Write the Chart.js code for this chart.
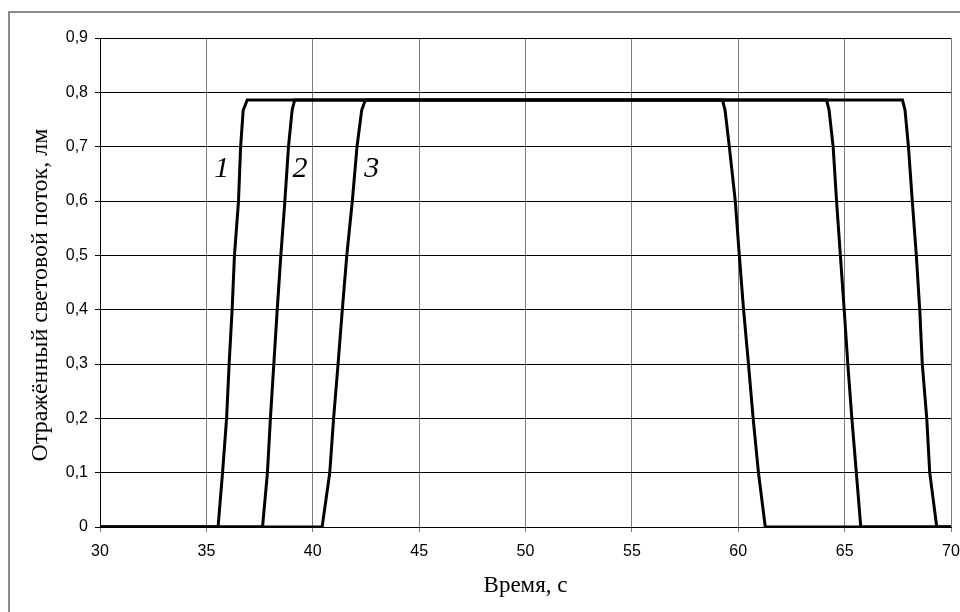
<!DOCTYPE html>
<html>
<head>
<meta charset="utf-8">
<script src="https://cdn.jsdelivr.net/npm/chart.js@4.4.1/dist/chart.umd.min.js"></script>
<style>
  html, body { margin: 0; padding: 0; background: #fff; }
  canvas { display: block; }
</style>
</head>
<body>
<canvas id="chart" width="960" height="612"></canvas>
<script>
// Flux levels (lm) at which the edges were read
const levels = [0, 0.1, 0.2, 0.3, 0.4, 0.5, 0.6, 0.7, 0.767, 0.786];

// Rising edges: time (s) at each level
const rise1 = [35.55, 35.76, 35.95, 36.07, 36.21, 36.32, 36.51, 36.61, 36.73, 36.92];
const rise2 = [37.64, 37.87, 38.01, 38.17, 38.33, 38.50, 38.69, 38.86, 39.03, 39.15];
const rise3 = [40.44, 40.80, 40.98, 41.19, 41.39, 41.60, 41.86, 42.08, 42.30, 42.47];

// Falling edges: time (s) at each level
const fall1 = [69.33, 69.00, 68.86, 68.65, 68.53, 68.37, 68.18, 68.00, 67.84, 67.72];
const fall2 = [65.76, 65.55, 65.34, 65.15, 64.98, 64.80, 64.62, 64.46, 64.27, 64.15];
const fall3 = [61.27, 60.95, 60.70, 60.48, 60.25, 60.05, 59.86, 59.58, 59.38, 59.26];

const timeStart = 30;
const timeEnd = 70;

// Curve numbers written next to the rising edges
const curveNames = ['1', '2', '3'];
const nameX = [35.72, 39.40, 42.77];
const nameY = [0.658, 0.658, 0.658];

const xTickLabels = ['30', '35', '40', '45', '50', '55', '60', '65', '70'];
const yTickLabels = ['0', '0,1', '0,2', '0,3', '0,4', '0,5', '0,6', '0,7', '0,8', '0,9'];

const xTitle = 'Время, с';
const yTitle = 'Отражённый световой поток, лм';

// Build one trace: zero, rise, plateau, fall, zero
const buildCurve = (rise, fall) => {
    const pts = [{ x: timeStart, y: 0 }];
    rise.forEach((t, i) => pts.push({ x: t, y: levels[i] }));
    for (let i = fall.length - 1; i >= 0; i--) {
        pts.push({ x: fall[i], y: levels[i] });
    }
    pts.push({ x: timeEnd, y: 0 });
    return pts;
};

const curves = [buildCurve(rise1, fall1), buildCurve(rise2, fall2), buildCurve(rise3, fall3)];

// White page with the grey frame around the chart
const framePlugin = {
    id: 'frame',
    beforeDraw: (chart) => {
        const ctx = chart.ctx;
        ctx.save();
        ctx.fillStyle = '#fff';
        ctx.fillRect(0, 0, chart.width, chart.height);
        ctx.strokeStyle = '#8a8a8a';
        ctx.lineWidth = 2;
        ctx.strokeRect(9, 12, chart.width + 20, chart.height + 20);
        ctx.restore();
    }
};

// Italic curve numbers
const namesPlugin = {
    id: 'curveNames',
    afterDatasetsDraw: (chart) => {
        const ctx = chart.ctx;
        const xs = chart.scales.x;
        const ys = chart.scales.y;
        ctx.save();
        ctx.fillStyle = '#000';
        ctx.font = 'italic 30px "Liberation Serif"';
        ctx.textAlign = 'center';
        ctx.textBaseline = 'middle';
        curveNames.forEach((name, i) => {
            ctx.fillText(name, xs.getPixelForValue(nameX[i]), ys.getPixelForValue(nameY[i]));
        });
        ctx.restore();
    }
};

// Vertical axis title (sits a little below the plot centre)
const yTitlePlugin = {
    id: 'yTitle',
    afterDraw: (chart) => {
        const ctx = chart.ctx;
        ctx.save();
        ctx.translate(41, 295);
        ctx.rotate(-Math.PI / 2);
        ctx.fillStyle = '#000';
        ctx.font = '24px "Liberation Serif"';
        ctx.textAlign = 'center';
        ctx.textBaseline = 'middle';
        ctx.fillText(yTitle, 0, 0);
        ctx.restore();
    }
};

const tickFont = { family: '"Liberation Sans", Arial, sans-serif', size: 16 };

new Chart(document.getElementById('chart').getContext('2d'), {
    type: 'line',
    data: {
        datasets: curves.map((pts, i) => ({
            label: curveNames[i],
            data: pts,
            borderColor: '#000',
            borderWidth: 3,
            pointRadius: 0,
            tension: 0,
            fill: false
        }))
    },
    options: {
        responsive: false,
        animation: false,
        layout: {
            padding: { top: 38, right: 0, left: 0, bottom: 0 }
        },
        plugins: {
            legend: { display: false },
            tooltip: { enabled: false }
        },
        scales: {
            x: {
                type: 'linear',
                min: timeStart,
                max: timeEnd,
                ticks: {
                    stepSize: 5,
                    color: '#000',
                    font: tickFont,
                    padding: 10,
                    maxRotation: 0,
                    callback: (v, i) => xTickLabels[i]
                },
                grid: {
                    color: '#7a7a7a',
                    lineWidth: 1,
                    tickLength: 5
                },
                border: { color: '#000', width: 1 },
                title: {
                    display: true,
                    text: xTitle,
                    color: '#000',
                    font: { family: '"Liberation Serif", "Times New Roman", serif', size: 23 },
                    padding: { top: 0, bottom: 12 }
                },
                afterFit: (scale) => {
                    scale.height = 85;
                    scale.paddingRight = 9;
                }
            },
            y: {
                min: 0,
                max: 0.9,
                ticks: {
                    stepSize: 0.1,
                    color: '#000',
                    font: tickFont,
                    padding: 7,
                    callback: (v, i) => yTickLabels[i]
                },
                grid: {
                    color: '#000',
                    lineWidth: 1,
                    tickLength: 5
                },
                border: { color: '#000', width: 1 },
                afterFit: (scale) => { scale.width = 100; }
            }
        }
    },
    plugins: [framePlugin, namesPlugin, yTitlePlugin]
});
</script>
</body>
</html>
